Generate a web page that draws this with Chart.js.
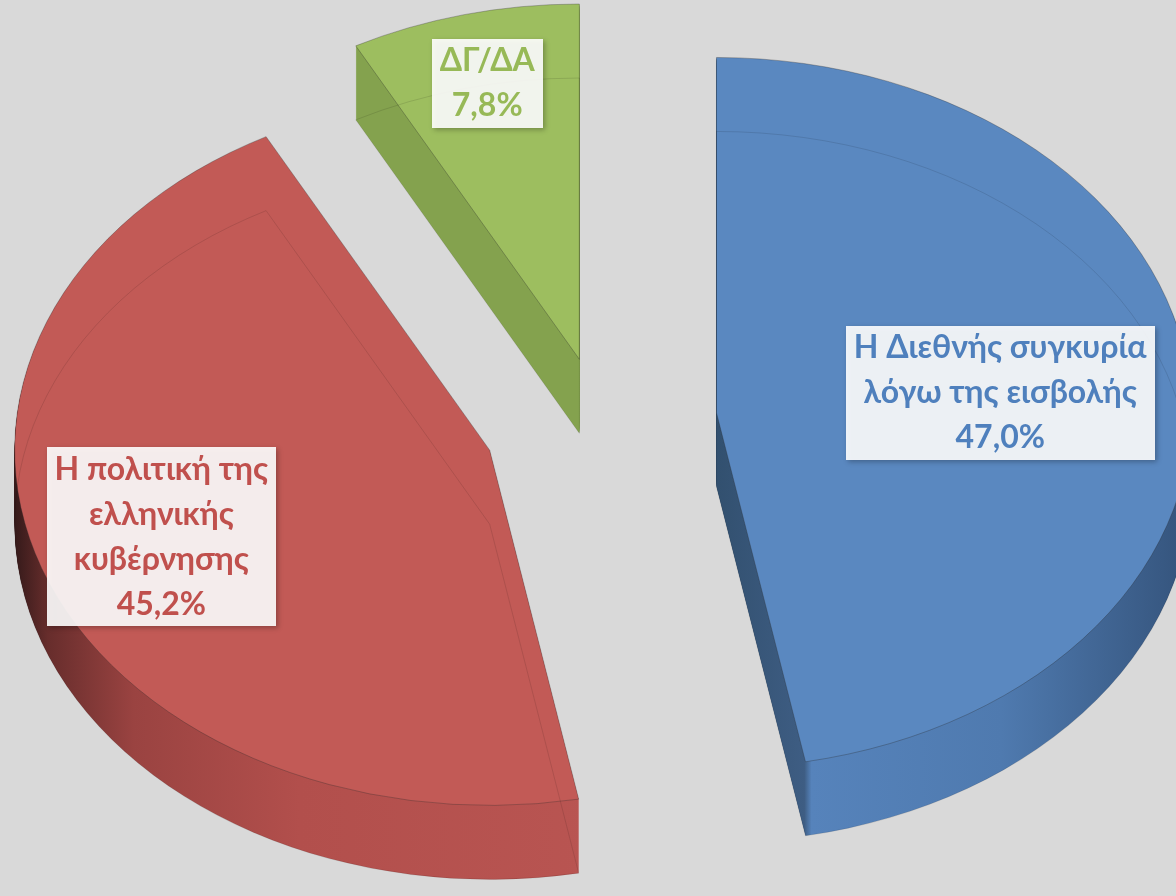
<!DOCTYPE html>
<html><head><meta charset="utf-8">
<script src="https://cdn.jsdelivr.net/npm/chart.js@4.4.1/dist/chart.umd.min.js"></script>
<style>html,body{margin:0;padding:0;background:#d9d9d9;} #wrap{position:relative;width:1176px;height:896px;overflow:hidden;}</style>
</head><body><div id="wrap"><canvas id="c"></canvas></div>
<script>
// ---- data ----
const categories = [
  ["Η Διεθνής συγκυρία", "λόγω της εισβολής"],
  ["Η πολιτική της", "ελληνικής", "κυβέρνησης"],
  ["ΔΓ/ΔΑ"]
];
const shares = [47.0, 45.2, 7.8];

// ---- styles ----
const topColors = ['#5a88c0', '#c25a56', '#9dbe5f'];
const textColors = ['#4f80bd', '#c0504d', '#97b957'];
const wallStops = [
  [[0, '#32506f'], [0.185, '#3e5d83'], [0.2, '#5683bb'], [0.6, '#4f7aaf'], [1, '#34537b']],
  [[-1, '#351a1a'], [-0.93, '#672d2c'], [-0.75, '#9a4341'], [-0.4, '#b24f4c'], [0.25, '#b95552'], [1, '#b95552']],
  [[-1, '#84a24e'], [1, '#84a24e']]
];
const explodeBy = [117, 117, 85];
const labelRadius = [0.6, 0.733, 0.8];
const TILT = 0.748, DEPTH = 74, RADIUS = 475;
const FONT = 'bold 32px Lato, "Noto Sans", sans-serif';
const LINE_H = 45, PADX = 8, BOX_VPAD = 44;

function place(ctx, el, i, dy) {
  const cx = el.x, cy = el.y;
  ctx.translate(0, dy);
  ctx.translate(cx, cy); ctx.scale(1, TILT); ctx.translate(-cx, -cy);
  const mid = (el.startAngle + el.endAngle) / 2;
  ctx.translate(Math.cos(mid) * explodeBy[i], Math.sin(mid) * explodeBy[i]);
}

const pie3d = {
  id: 'pie3d',
  beforeDatasetsDraw(chart) {
    const ctx = chart.ctx;
    const els = chart.getDatasetMeta(0).data;
    els.forEach((el, i) => {
      const orig = el.options;
      const g = ctx.createLinearGradient(el.x - el.outerRadius, 0, el.x + el.outerRadius, 0);
      wallStops[i].forEach(([t, c]) => g.addColorStop((t + 1) / 2, c));
      el.options = Object.assign({}, orig, {backgroundColor: g, borderWidth: 0});
      for (let d = DEPTH; d >= 1; d--) { ctx.save(); place(ctx, el, i, d); el.draw(ctx); ctx.restore(); }
      el.options = Object.assign({}, orig, {borderWidth: 1, borderColor: 'rgba(40,40,40,0.35)'});
      ctx.save(); place(ctx, el, i, 0); el.draw(ctx); ctx.restore();
      el.options = Object.assign({}, orig, {backgroundColor: 'rgba(0,0,0,0)', borderWidth: 1, borderColor: 'rgba(0,0,0,0.13)'});
      ctx.save(); place(ctx, el, i, DEPTH); el.draw(ctx); ctx.restore();
      el.options = orig;
    });
    return false;
  },
  afterDraw(chart) {
    const ctx = chart.ctx;
    const els = chart.getDatasetMeta(0).data;
    const labels = chart.data.labels, vals = chart.data.datasets[0].data;
    els.forEach((el, i) => {
      const mid = (el.startAngle + el.endAngle) / 2;
      const r = explodeBy[i] + labelRadius[i] * el.outerRadius;
      const x = el.x + Math.cos(mid) * r;
      const y = el.y + Math.sin(mid) * r * TILT;
      const lines = [...labels[i], vals[i].toFixed(1).replace('.', ',') + '%'];
      ctx.save();
      ctx.font = FONT;
      const w = Math.max(...lines.map(l => ctx.measureText(l).width)) + 2 * PADX;
      const h = (lines.length - 1) * LINE_H + BOX_VPAD;
      ctx.shadowColor = 'rgba(0,0,0,0.3)'; ctx.shadowBlur = 5; ctx.shadowOffsetX = 2; ctx.shadowOffsetY = 2;
      ctx.fillStyle = 'rgba(255,255,255,0.9)';
      ctx.fillRect(Math.round(x - w / 2), Math.round(y - h / 2), Math.round(w), Math.round(h));
      ctx.shadowColor = 'rgba(0,0,0,0)';
      ctx.fillStyle = textColors[i];
      ctx.textAlign = 'center'; ctx.textBaseline = 'middle';
      lines.forEach((l, k) => ctx.fillText(l, x, y - (lines.length - 1) * LINE_H / 2 + k * LINE_H));
      ctx.restore();
    });
  }
};

new Chart(document.getElementById('c'), {
  type: 'pie',
  data: {labels: categories, datasets: [{data: shares, backgroundColor: topColors, borderWidth: 0}]},
  options: {
    responsive: true, maintainAspectRatio: false, animation: false, events: [],
    radius: RADIUS,
    layout: {padding: {left: 24, right: 0, top: 0, bottom: 54}},
    plugins: {legend: {display: false}, tooltip: {enabled: false}}
  },
  plugins: [pie3d]
});
</script></body></html>
